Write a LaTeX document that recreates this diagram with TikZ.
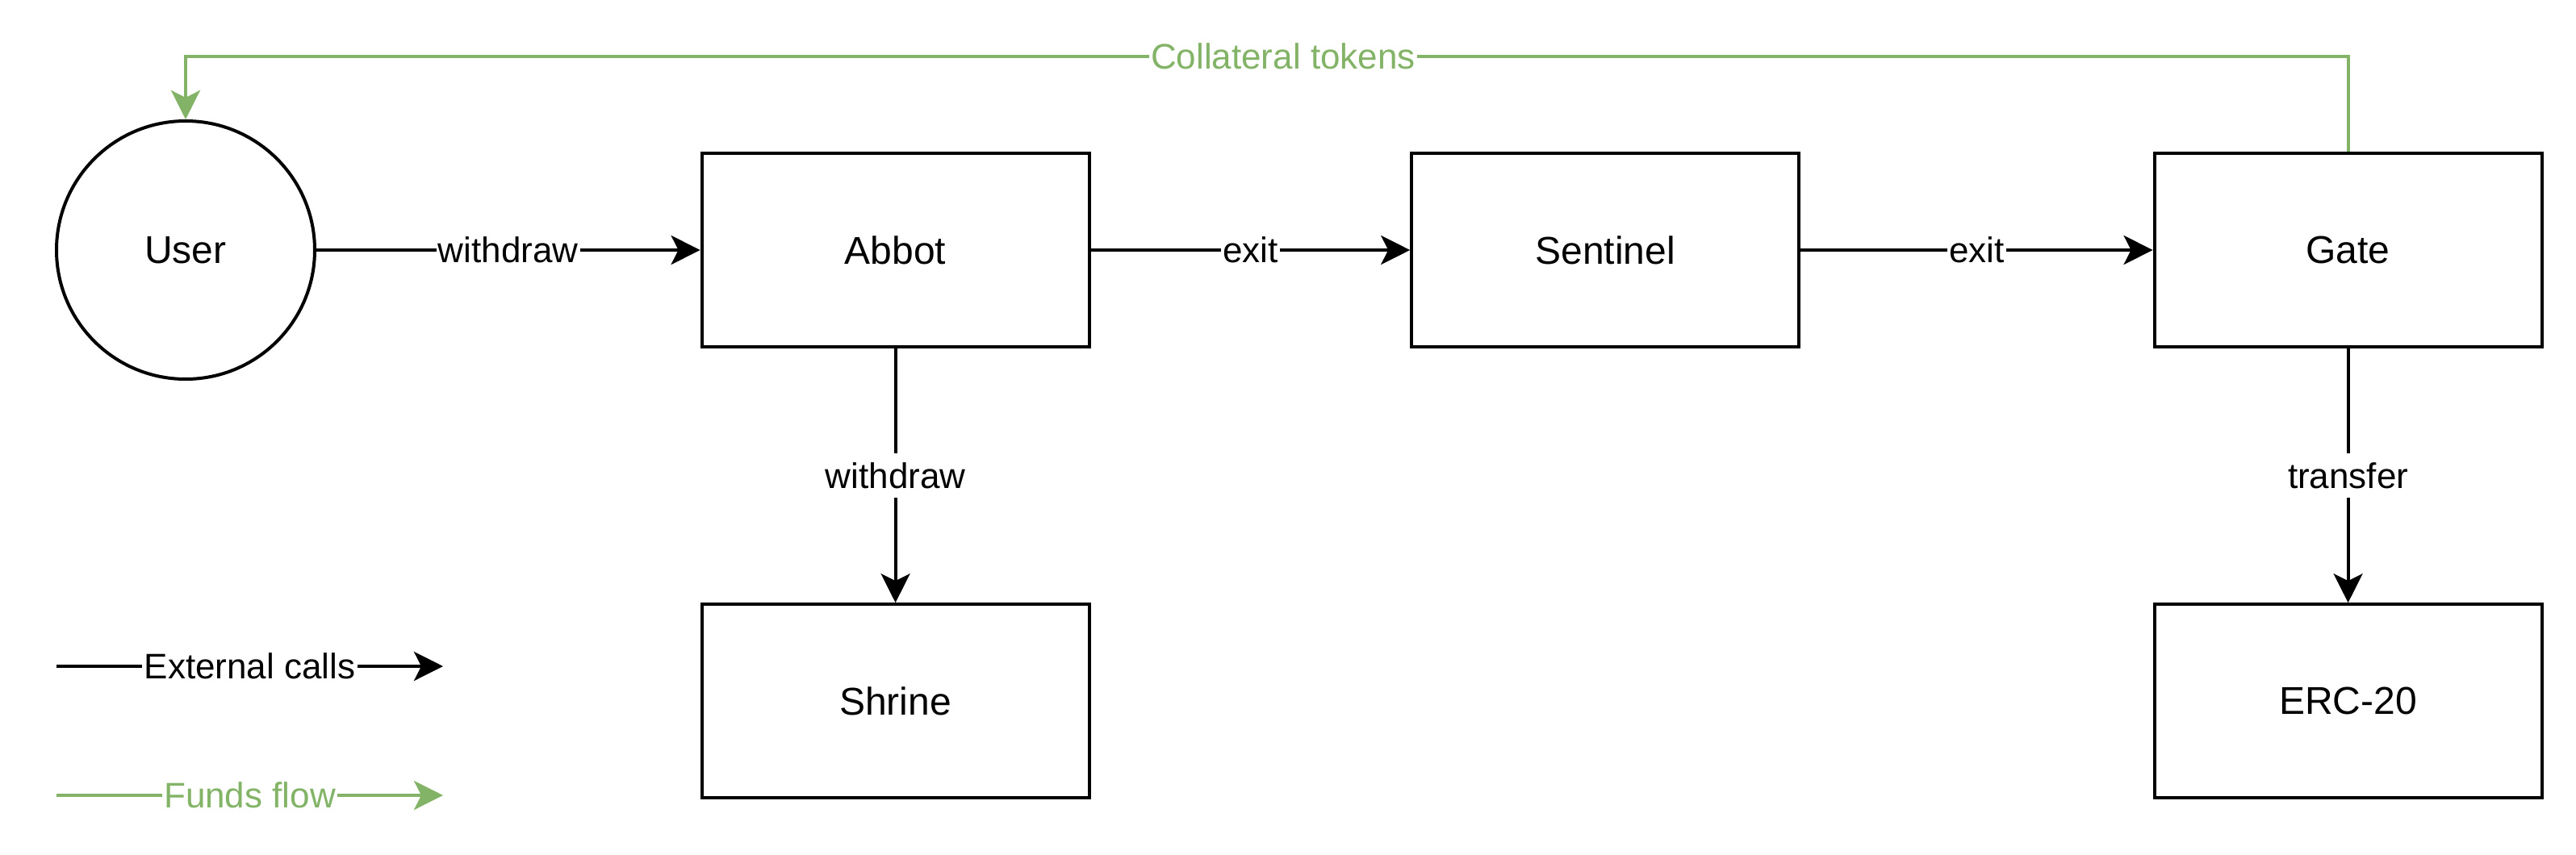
\documentclass[tikz,border=0pt]{standalone}
\usepackage{fontspec}
\setmainfont{Liberation Sans}
\usetikzlibrary{arrows.meta}
\definecolor{fundgreen}{HTML}{82B366}
\begin{document}
\begin{tikzpicture}[x=1pt,y=-1pt,
  box/.style={draw, line width=1pt, minimum width=120pt, minimum height=60pt, inner sep=0pt, font=\fontsize{12}{14}\selectfont},
  actor/.style={draw, circle, line width=1pt, minimum size=80pt, inner sep=0pt, font=\fontsize{12}{14}\selectfont},
  call/.style={line width=1pt, -{Stealth[length=9pt,width=9pt,inset=2.25pt]}},
  fund/.style={call, draw=fundgreen},
  lbl/.style={fill=white, inner xsep=0.6pt, inner ysep=2.8pt, font=\fontsize{11}{13}\selectfont},
  flbl/.style={lbl, text=fundgreen}
]
\useasboundingbox (0,0) rectangle (798,265);
\node[actor] (user) at (57.5,77.5) {User};
\node[box] (abbot) at (277.4,77.5) {Abbot};
\node[box] (sentinel) at (497.3,77.5) {Sentinel};
\node[box] (gate) at (727.4,77.5) {Gate};
\node[box] (shrine) at (277.4,217.3) {Shrine};
\node[box] (erc) at (727.4,217.3) {ERC-20};

\draw[call] (user) -- node[lbl]{withdraw} (abbot);
\draw[call] (abbot) -- node[lbl]{exit} (sentinel);
\draw[call] (sentinel) -- node[lbl]{exit} (gate);
\draw[call] (abbot) -- node[lbl]{withdraw} (shrine);
\draw[call] (gate) -- node[lbl]{transfer} (erc);

\coordinate (ct) at (727.4,17.5);
\coordinate (cu) at (57.5,17.5);
\draw[fund] (gate.north) -- (ct) -- node[flbl, pos=0.4925]{Collateral tokens} (cu) -- (user.north);

\coordinate (la1) at (17.5,206.5);
\coordinate (lb1) at (137.25,206.5);
\coordinate (la2) at (17.5,246.5);
\coordinate (lb2) at (137.25,246.5);
\draw[call] (la1) -- node[lbl]{External calls} (lb1);
\draw[fund] (la2) -- node[flbl]{Funds flow} (lb2);
\end{tikzpicture}
\end{document}
